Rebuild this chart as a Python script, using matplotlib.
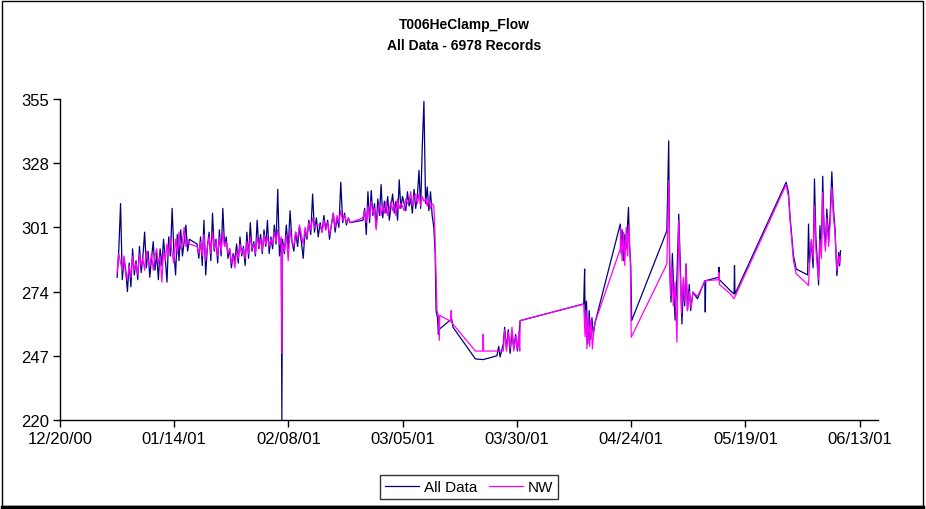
import numpy as np
import pandas as pd
import matplotlib
matplotlib.use("Agg")
import matplotlib.pyplot as plt
import matplotlib.dates as mdates
from matplotlib.patches import Rectangle
from matplotlib.lines import Line2D

plt.rcParams['font.family'] = ['Liberation Sans', 'DejaVu Sans']

# days are counted from 12/20/00
base_date = pd.Timestamp('2000-12-20')
tick_days = [0, 25, 50, 75, 100, 125, 150, 175]
y_ticks = [220, 247, 274, 301, 328, 355]

# dense stretches (start day, end day), records spread over each one
dense_spans = [(12.5, 28.3), (30.0, 48.4), (48.7, 63.5), (66.3, 81.8)]

all_dense = [
    [280, 292, 311, 279, 288, 283, 274, 286, 276, 292, 281, 287, 279, 293, 282,
     289, 299, 284, 291, 280, 288, 295, 283, 290, 279, 292, 285, 296, 288, 278,
     297, 289, 309, 291, 281, 298, 287, 300, 289, 295, 302, 291, 296],
    [294, 288, 297, 285, 304, 281, 293, 299, 287, 307, 291, 296, 286, 300, 289,
     309, 293, 297, 288, 292, 284, 290, 287, 294, 286, 297, 289, 293, 285, 299,
     288, 303, 291, 295, 289, 304, 292, 298, 290, 300, 293, 304, 290, 297, 292,
     302, 294, 317, 289, 296],
    [296, 290, 302, 292, 308, 295, 291, 299, 293, 301, 295, 288, 300, 296, 304,
     298, 315, 299, 305, 297, 303, 299, 306, 300, 304, 296, 302, 307, 299, 305,
     301, 320, 303, 307, 302, 305, 303],
    [304, 309, 298, 316, 303, 316.5, 306, 311, 301, 313, 306, 319, 305, 312, 307,
     314, 304, 310, 315, 307, 312, 304, 321, 309, 314, 311, 308, 316, 310, 313,
     307, 317, 309, 314, 325, 309, 335, 354, 311, 318, 308, 316, 306, 301],
]

nw_dense = [
    [282, 290, 286, 283, 289, 281, 279, 285, 280, 289, 283, 286, 281, 290, 285,
     288, 283, 291, 287, 285, 290, 283, 289, 292, 286, 289, 278, 291, 287, 294,
     289, 297, 290, 286, 296, 290, 299, 292, 295, 301, 293, 296, 294],
    [293, 290, 295, 289, 298, 287, 293, 297, 290, 299, 292, 295, 289, 297, 291,
     299, 293, 295, 290, 292, 286, 289, 284, 291, 288, 294, 290, 292, 288, 295,
     290, 297, 292, 294, 290, 297, 293, 296, 291, 298, 294, 297, 293, 296, 294,
     299, 295, 300, 294, 297],
    [294, 291, 298, 287, 300, 295, 293, 299, 296, 302, 298, 294, 301, 297, 303,
     300, 305, 301, 302, 302, 302, 299, 304, 300, 303, 298, 302, 307, 301, 306,
     303, 308, 304, 306, 303, 305, 303],
    [305, 308, 303, 310, 305, 312, 307, 309, 300, 308, 311, 306, 310, 307, 312,
     306, 309, 312, 308, 311, 306, 313, 309, 311, 310, 308, 313, 311, 312, 316,
     310, 314, 315, 311, 315, 310, 314, 312, 313, 310, 313, 309, 311, 310],
]

# sparse records
all_days = [48.55, 82.1, 82.3, 82.6, 82.8, 82.9, 85.7, 86.0, 90.9, 92.6, 95.6, 96.0,
            96.3, 97.0, 97.3, 97.7, 98.1, 98.5, 98.9, 99.3, 99.7, 100.1, 100.4, 100.7,
            114.6, 114.8, 114.9, 115.2, 115.5, 115.8, 116.1, 116.4, 116.7, 117.1,
            122.6, 122.8, 123.0, 123.3, 123.6, 123.9, 124.4, 124.6, 124.9, 125.1,
            132.8, 133.2, 133.4, 133.7, 134.0, 134.3, 134.6, 135.0, 135.4, 135.7,
            136.1, 136.4, 136.7, 137.0, 137.3, 137.7, 138.0, 138.5, 139.5, 141.1,
            141.2, 141.3, 144.1, 144.2, 144.3, 146.7, 147.5, 147.6, 147.7,
            158.9, 159.4, 159.8, 160.5, 161.1, 163.6, 163.8, 164.0, 164.4, 164.8,
            165.1, 165.4, 165.7, 166.0, 166.3, 166.6, 166.9, 167.2, 167.5, 167.8,
            168.2, 168.5, 168.9, 169.2, 169.6, 170.0, 170.4, 170.6, 170.8]
all_vals = [220, 290, 266, 263, 256, 258, 262.5, 259, 245.7, 245.4, 247, 251,
            246.5, 252, 259, 250, 258, 248, 257, 250, 256, 249, 255, 261.8,
            268.8, 283.5, 262, 270, 252, 266, 254, 263, 256, 261.1,
            302.4, 290, 300, 287, 298, 292, 309.4, 294, 285, 261.8,
            299.6, 337.4, 285, 269.6, 290, 275, 262, 280, 306.6, 288,
            260.4, 277, 268, 285.6, 266, 277, 266, 273.8, 271, 278.6,
            265.4, 278.6, 280, 284.2, 279, 274.4, 273, 284.9, 273,
            320, 315.8, 304.5, 289.1, 283.5, 281, 302.4, 286, 295, 284,
            321.4, 297, 287.7, 276.8, 301.7, 290, 322.5, 300, 293.3, 308.7,
            296, 305, 324.4, 310, 300.3, 280.7, 290.5, 284.9, 291.2]

nw_days = [48.55, 82.0, 82.2, 82.5, 82.8, 83.0, 83.1, 85.5, 85.6, 85.7, 90.9, 92.5,
           92.6, 92.7, 97.0, 97.3, 97.7, 98.1, 98.5, 98.9, 99.3, 99.7, 100.1, 100.4,
           100.6, 100.7,
           114.6, 114.9, 115.1, 115.3, 115.6, 115.9, 116.2, 116.5, 116.8, 117.1,
           122.6, 122.7, 123.0, 123.3, 123.6, 123.9, 124.2, 124.5, 124.8, 125.0,
           132.8, 133.2, 133.4, 133.6, 133.9, 134.2, 134.6, 135.0, 135.4, 135.7,
           136.0, 136.4, 136.7, 137.0, 137.3, 137.7, 138.1, 138.5, 139.5, 141.2,
           144.1, 144.2, 144.3, 146.7, 147.5,
           158.9, 159.4, 159.8, 160.5, 161.1, 163.6, 163.8, 164.0, 164.4, 164.8,
           165.1, 165.4, 165.7, 166.0, 166.3, 166.6, 166.9, 167.2, 167.5, 167.8,
           168.2, 168.5, 168.9, 169.2, 169.6, 170.0, 170.4, 170.6, 170.8]
nw_vals = [248, 301, 287, 266, 263.9, 253.5, 264, 261.5, 266, 261, 249, 249,
           256, 249, 249, 258, 249, 257, 250, 259, 249, 255, 250, 257,
           249, 261.8,
           268.8, 255, 266, 250, 264, 251, 262, 249.9, 258, 261.1,
           291.9, 301, 287, 299, 285, 301, 289, 302, 286, 254.8,
           285.6, 320.6, 290, 272.3, 285, 268, 278, 252.7, 304, 282,
           265, 280, 270, 285.6, 266, 274, 267, 273.8, 272, 278.6,
           279, 282, 277, 273, 271,
           319, 314, 303, 287, 281.5, 277, 276.5, 285, 296, 288,
           310.1, 292, 285, 279, 296, 288, 315.8, 298, 291, 305,
           293, 302, 317.9, 307, 298, 283, 289, 286, 289]


def build_series(dense, days, vals):
    d = list(days)
    v = list(vals)
    for (start, end), seg in zip(dense_spans, dense):
        d += list(np.linspace(start, end, len(seg)))
        v += seg
    order = np.argsort(d)
    d = np.array(d)[order]
    v = np.array(v)[order]
    return base_date + pd.to_timedelta(d, unit='D'), v


all_x, all_y = build_series(all_dense, all_days, all_vals)
nw_x, nw_y = build_series(nw_dense, nw_days, nw_vals)

fig = plt.figure(figsize=(9.26, 5.10), dpi=100)
ax = fig.add_axes([60 / 926, 1 - 421 / 510, 818 / 926, 321 / 510])

ax.plot(all_x, all_y, color='#000080', lw=0.9, label='All Data')
ax.plot(nw_x, nw_y, color='#FF00FF', lw=0.9, label='NW')

ax.set_ylim(220, 355)
ax.set_yticks(y_ticks)
ax.set_xlim(base_date, base_date + pd.Timedelta(days=179))
ax.set_xticks([base_date + pd.Timedelta(days=d) for d in tick_days])
ax.xaxis.set_major_formatter(mdates.DateFormatter('%m/%d/%y'))

for side in ['top', 'right']:
    ax.spines[side].set_visible(False)
for side in ['left', 'bottom']:
    ax.spines[side].set_linewidth(1.0)
ax.tick_params(axis='both', direction='out', length=5, width=1.0,
               labelsize=12, pad=3)

# titulo
fig.text(0.501, 1 - 25 / 510, 'T006HeClamp_Flow', ha='center', va='center',
         fontsize=10, fontweight='bold')
fig.text(0.501, 1 - 46 / 510, 'All Data - 6978 Records', ha='center',
         va='center', fontsize=10, fontweight='bold')

leg = fig.legend(loc='center', bbox_to_anchor=(469 / 926, 1 - 488 / 510),
                 ncol=2, fontsize=11, frameon=True, fancybox=False,
                 edgecolor='black', handlelength=2.2, handletextpad=0.3,
                 columnspacing=0.8, borderpad=0.35)
leg.get_frame().set_linewidth(1.0)

# marco exterior
fig.patches.append(Rectangle((2 / 926, 3 / 510), 921 / 926, 505 / 510,
                             transform=fig.transFigure, fill=False,
                             edgecolor='black', lw=1.0))
fig.lines.append(Line2D([2 / 926, 923 / 926], [2 / 510, 2 / 510],
                        transform=fig.transFigure, color='black', lw=2.5))

fig.savefig('out.png', dpi=100)
